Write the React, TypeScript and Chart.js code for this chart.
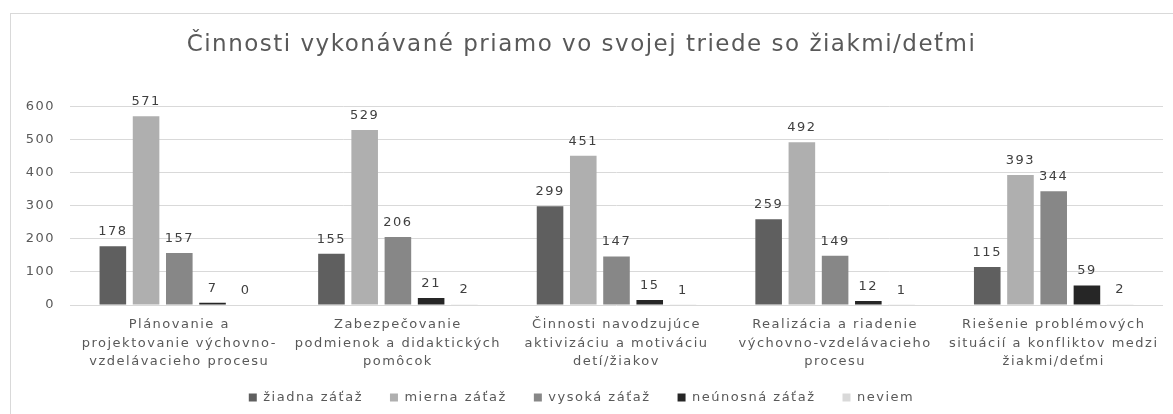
import React, { useEffect, useRef } from "react";
import { Chart, registerables } from "chart.js";

Chart.register(...registerables);

const TITLE = "Činnosti vykonávané priamo vo svojej triede so žiakmi/deťmi";

const categories: string[][] = [
  ["Plánovanie a", "projektovanie výchovno-", "vzdelávacieho procesu"],
  ["Zabezpečovanie", "podmienok a didaktických", "pomôcok"],
  ["Činnosti navodzujúce", "aktivizáciu a motiváciu", "detí/žiakov"],
  ["Realizácia a riadenie", "výchovno-vzdelávacieho", "procesu"],
  ["Riešenie problémových", "situácií a konfliktov medzi", "žiakmi/deťmi"],
];

const seriesNames = ["žiadna záťaž", "mierna záťaž", "vysoká záťaž", "neúnosná záťaž", "neviem"];
const ziadna = [178, 155, 299, 259, 115];
const mierna = [571, 529, 451, 492, 393];
const vysoka = [157, 206, 147, 149, 344];
const neunosna = [7, 21, 15, 12, 59];
const neviem = [0, 2, 1, 1, 2];
const seriesColors = ["#5f5f5f", "#afafaf", "#878787", "#262626", "#d9d9d9"];

const yTicks = [0, 100, 200, 300, 400, 500, 600];

const FONT = "'DejaVu Sans', sans-serif";
const SPACING = "1.5px";

const spacingPlugin = {
  id: "letterSpacing",
  beforeUpdate(chart: any) {
    chart.ctx.letterSpacing = SPACING;
  },
  beforeDraw(chart: any) {
    chart.ctx.letterSpacing = SPACING;
  },
  afterLayout(chart: any) {
    // let the multi-line category labels extend below the reserved axis box
    chart.scales.x.bottom = chart.height;
  },
};

const dataLabels = {
  id: "dataLabels",
  afterDatasetsDraw(chart: any) {
    const ctx = chart.ctx;
    ctx.save();
    ctx.font = `13px ${FONT}`;
    ctx.fillStyle = "#404040";
    ctx.textAlign = "center";
    ctx.textBaseline = "bottom";
    chart.data.datasets.forEach((ds: any, i: number) => {
      const meta = chart.getDatasetMeta(i);
      meta.data.forEach((bar: any, j: number) => {
        ctx.fillText(String(ds.data[j]), bar.x, bar.y - 8);
      });
    });
    ctx.restore();
  },
};

export default function App() {
  const ref = useRef<HTMLCanvasElement>(null);
  useEffect(() => {
    if (!ref.current) return;
    const allSeries = [ziadna, mierna, vysoka, neunosna, neviem];
    const chart = new Chart(ref.current, {
      type: "bar",
      data: {
        labels: categories,
        datasets: allSeries.map((d, i) => ({
          label: seriesNames[i],
          data: d,
          backgroundColor: seriesColors[i],
          borderWidth: 0,
          categoryPercentage: 0.76,
          barPercentage: 0.8,
        })),
      },
      options: {
        animation: false,
        responsive: false,
        maintainAspectRatio: false,
        layout: { padding: { left: 0, right: 10, top: 0, bottom: 0 } },
        plugins: {
          title: {
            display: true,
            text: TITLE,
            color: "#595959",
            font: { family: FONT, size: 23, weight: "normal", lineHeight: 1.2 },
            padding: { top: 31, bottom: 48 },
          },
          legend: {
            position: "bottom",
            labels: {
              boxWidth: 8,
              boxHeight: 8,
              padding: 27,
              color: "#595959",
              font: { family: FONT, size: 13 },
            },
          },
          tooltip: { enabled: false },
        },
        scales: {
          x: {
            grid: { display: false, drawTicks: false },
            border: { display: false },
            ticks: {
              color: "#595959",
              font: { family: FONT, size: 13, lineHeight: 1.4 },
              padding: 11,
              maxRotation: 0,
              autoSkip: false,
            },
            afterFit: (s: any) => {
              s.height = 59;
            },
          },
          y: {
            min: 0,
            max: 600,
            afterBuildTicks: (s: any) => {
              s.ticks = yTicks.map((v) => ({ value: v }));
            },
            grid: { color: "#d9d9d9", drawTicks: false },
            border: { display: false },
            ticks: {
              color: "#595959",
              font: { family: FONT, size: 13 },
              padding: 15,
            },
            afterFit: (s: any) => {
              s.width = 70;
            },
          },
        },
      },
      plugins: [spacingPlugin, dataLabels],
    });
    return () => chart.destroy();
  }, []);
  return (
    <div style={{ position: "absolute", left: 0, top: 0, width: 1173, height: 414, overflow: "hidden", background: "#fff" }}>
      <div
        style={{
          position: "absolute",
          left: 10,
          top: 13,
          width: 1200,
          height: 450,
          border: "1px solid #d9d9d9",
          boxSizing: "border-box",
        }}
      />
      <canvas ref={ref} width={1173} height={414} style={{ position: "absolute", left: 0, top: 0 }} />
    </div>
  );
}
